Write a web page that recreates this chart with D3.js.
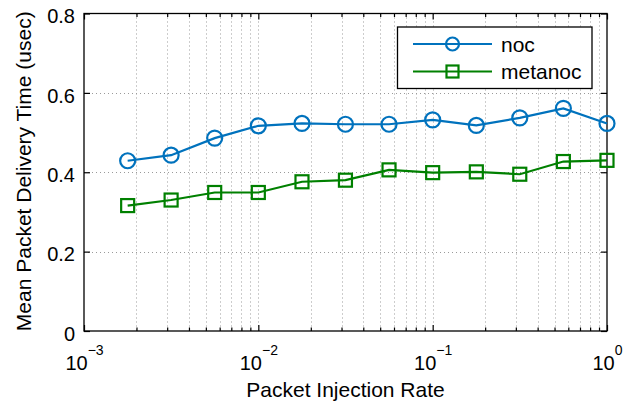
<!DOCTYPE html>
<html><head><meta charset="utf-8">
<script src="https://cdn.jsdelivr.net/npm/d3@7"></script>
<style>
body{margin:0;background:#fff}
svg text{font-family:"Liberation Sans",Arial,Helvetica,sans-serif;fill:#000}
</style>
</head><body>
<svg id="c" width="641" height="403"></svg>
<script>
// ---- data ----
const injectionRate = [0.00178, 0.00316, 0.00562, 0.01, 0.0178, 0.0316, 0.0562, 0.1, 0.178, 0.316, 0.562, 1.0];
const nocDelay      = [0.429, 0.443, 0.486, 0.517, 0.523, 0.521, 0.521, 0.532, 0.518, 0.537, 0.561, 0.523];
const metanocDelay  = [0.316, 0.330, 0.349, 0.349, 0.376, 0.380, 0.406, 0.399, 0.401, 0.395, 0.427, 0.430];
const seriesNames   = ["noc", "metanoc"];
const yTickValues   = [0, 0.2, 0.4, 0.6, 0.8];
const xMajorTicks   = [0.001, 0.01, 0.1, 1];
const xExponents    = ["\u22123", "\u22122", "\u22121", "0"];
const xTitle = "Packet Injection Rate";
const yTitle = "Mean Packet Delivery Time (usec)";

// ---- layout ----
const L = 84, R = 607, T = 13.5, B = 331;
const blue = "#0072BD", green = "#008000";
const svg = d3.select("#c");

const x = d3.scaleLog().domain([1e-3, 1]).range([L, R]);
const y = d3.scaleLinear().domain([0, 0.8]).range([B, T]);

const allXTicks = x.ticks();
const minorX = allXTicks.filter(v => !xMajorTicks.some(m => Math.abs(m - v) / m < 1e-6));

// grid
const grid = svg.append("g").attr("stroke", "#9a9a9a").attr("stroke-width", 1).attr("stroke-dasharray", "1,3");
grid.selectAll("line.vx").data(allXTicks.filter(v => v > 1.0001e-3 && v < 0.9999))
  .join("line").attr("x1", d => Math.round(x(d)) + 0.5).attr("x2", d => Math.round(x(d)) + 0.5)
  .attr("y1", T).attr("y2", B);
grid.selectAll("line.hy").data(yTickValues.filter(v => v > 0 && v < 0.8))
  .join("line").attr("y1", d => Math.round(y(d)) + 0.5).attr("y2", d => Math.round(y(d)) + 0.5)
  .attr("x1", L).attr("x2", R);

// axes (inward ticks on all sides)
const axStyle = g => { g.select(".domain").remove(); g.selectAll(".tick line").attr("stroke", "#000").attr("stroke-width", 1.2); };
svg.append("g").attr("transform", `translate(0,${B})`)
  .call(d3.axisBottom(x).tickValues(minorX).tickSizeInner(-3.5).tickSizeOuter(0).tickFormat(""))
  .call(axStyle);
svg.append("g").attr("transform", `translate(0,${T})`)
  .call(d3.axisTop(x).tickValues(minorX).tickSizeInner(-3.5).tickSizeOuter(0).tickFormat(""))
  .call(axStyle);
svg.append("g").attr("transform", `translate(0,${T})`)
  .call(d3.axisTop(x).tickValues(xMajorTicks).tickSizeInner(-6).tickSizeOuter(0).tickFormat(""))
  .call(axStyle);
svg.append("g").attr("transform", `translate(${R},0)`)
  .call(d3.axisRight(y).tickValues(yTickValues).tickSizeInner(-6).tickSizeOuter(0).tickFormat(""))
  .call(axStyle);

const xAx = svg.append("g").attr("transform", `translate(0,${B})`)
  .call(d3.axisBottom(x).tickValues(xMajorTicks).tickSizeInner(-6).tickSizeOuter(0))
  .call(axStyle);
xAx.selectAll(".tick text").each(function(d, i) {
  const t = d3.select(this).text(null).attr("y", 39).attr("dy", null)
    .attr("font-size", 20).attr("text-anchor", "middle").attr("fill", "#000");
  t.append("tspan").text("10");
  t.append("tspan").attr("dy", -15).attr("font-size", 14).text(xExponents[i]);
});

const yAx = svg.append("g").attr("transform", `translate(${L},0)`)
  .call(d3.axisLeft(y).tickValues(yTickValues).tickSizeInner(-6).tickSizeOuter(0).tickPadding(9)
    .tickFormat(d => d === 0 ? "0" : d3.format(".1f")(d)))
  .call(axStyle);
yAx.selectAll(".tick text").attr("font-size", 20).attr("dy", "0.46em").attr("fill", "#000");

// plot box
svg.append("rect").attr("x", L).attr("y", T).attr("width", R - L).attr("height", B - T)
  .attr("fill", "none").attr("stroke", "#000").attr("stroke-width", 1.3);

// series
const line = d3.line().x(d => x(d[0])).y(d => y(d[1]));
const nocPts = injectionRate.map((r, i) => [r, nocDelay[i]]);
const metaPts = injectionRate.map((r, i) => [r, metanocDelay[i]]);

svg.append("path").datum(nocPts).attr("d", line).attr("fill", "none").attr("stroke", blue).attr("stroke-width", 2.2);
svg.append("path").datum(metaPts).attr("d", line).attr("fill", "none").attr("stroke", green).attr("stroke-width", 2.2);

svg.selectAll("circle.noc").data(nocPts).join("circle")
  .attr("cx", d => x(d[0])).attr("cy", d => y(d[1])).attr("r", 7.5)
  .attr("fill", "none").attr("stroke", blue).attr("stroke-width", 2.2);
const sq = 13;
svg.selectAll("rect.meta").data(metaPts).join("rect")
  .attr("x", d => x(d[0]) - sq / 2).attr("y", d => y(d[1]) - sq / 2).attr("width", sq).attr("height", sq)
  .attr("fill", "none").attr("stroke", green).attr("stroke-width", 2.2);

// legend
const lg = svg.append("g");
lg.append("rect").attr("x", 397.5).attr("y", 27).attr("width", 194.5).attr("height", 61.5)
  .attr("fill", "#fff").attr("stroke", "#000").attr("stroke-width", 1.3);
const legendRows = [
  {name: seriesNames[0], color: blue, yy: 44, marker: "circle"},
  {name: seriesNames[1], color: green, yy: 71.5, marker: "square"}
];
legendRows.forEach(r => {
  lg.append("line").attr("x1", 413).attr("x2", 492).attr("y1", r.yy).attr("y2", r.yy)
    .attr("stroke", r.color).attr("stroke-width", 2.2);
  if (r.marker === "circle") {
    lg.append("circle").attr("cx", 452.5).attr("cy", r.yy).attr("r", 6.5)
      .attr("fill", "none").attr("stroke", r.color).attr("stroke-width", 2.2);
  } else {
    lg.append("rect").attr("x", 452.5 - 6).attr("y", r.yy - 6).attr("width", 12).attr("height", 12)
      .attr("fill", "none").attr("stroke", r.color).attr("stroke-width", 2.2);
  }
  lg.append("text").attr("x", 501).attr("y", r.yy + 7.5).attr("font-size", 21).text(r.name);
});

// titles
svg.append("text").attr("x", (L + R) / 2).attr("y", 397).attr("text-anchor", "middle")
  .attr("font-size", 21).text(xTitle);
svg.append("text").attr("transform", `translate(31,${(T + B) / 2 - 1}) rotate(-90)`)
  .attr("text-anchor", "middle").attr("font-size", 21).text(yTitle);
</script>
</body></html>
